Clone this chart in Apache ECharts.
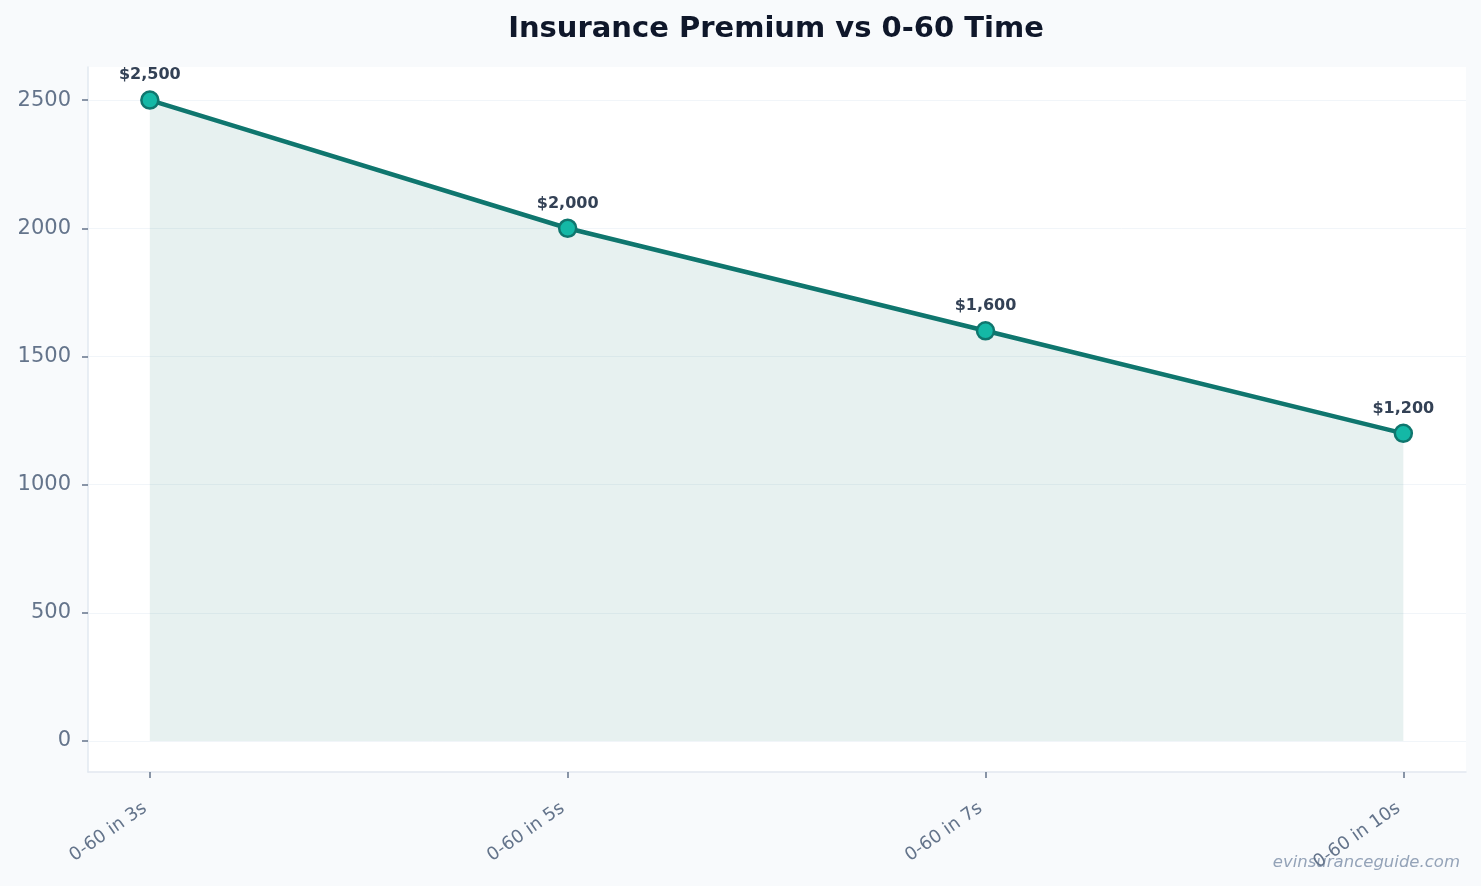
<!DOCTYPE html>
<html lang="en">
<head>
    <meta charset="UTF-8">
    <title>Insurance Premium vs 0-60 Time</title>
    <style>
        html, body { margin: 0; padding: 0; background: #f8fafc; }
        #chart { width: 1481px; height: 886px; }
    </style>
</head>
<body>
    <div id="chart"></div>
</body>
<script src="https://cdn.jsdelivr.net/npm/echarts@6/dist/echarts.min.js"></script>
<script type="text/javascript">
    // categories and premiums
    var categories = ['0-60 in 3s', '0-60 in 5s', '0-60 in 7s', '0-60 in 10s'];
    var premiums = [2500, 2000, 1600, 1200];
    var yTicks = [0, 500, 1000, 1500, 2000, 2500];
    var xTicks = [0, 1, 2, 3];

    var font = 'DejaVu Sans';

    function money(v) {
        return '$' + v.toString().replace(/\B(?=(\d{3})+(?!\d))/g, ',');
    }

    var seriesData = [];
    for (var i = 0; i < premiums.length; i++) {
        seriesData.push([i, premiums[i]]);
    }

    var option = {
        backgroundColor: '#f8fafc',
        title: {
            text: 'Insurance Premium vs 0-60 Time',
            left: 771,
            top: 10,
            textAlign: 'center',
            textStyle: { fontFamily: font, fontSize: 29, fontWeight: 'bold', color: '#0f172a' }
        },
        graphic: [{
            type: 'text',
            right: 21,
            bottom: 15,
            style: {
                text: 'evinsuranceguide.com',
                fontFamily: font,
                fontStyle: 'italic',
                fontSize: 16.5,
                fill: '#94a3b8'
            }
        }],
        grid: {
            left: 88,
            right: 15,
            top: 67,
            bottom: 114,
            show: true,
            backgroundColor: '#ffffff',
            borderWidth: 0
        },
        xAxis: {
            type: 'value',
            min: -0.148,
            max: 3.15,
            axisLine: { show: true, onZero: false, lineStyle: { color: '#e2e8f0', width: 1.5 } },
            axisTick: { show: true, customValues: xTicks, length: 6, lineStyle: { color: '#64748b', width: 1.5 } },
            axisLabel: {
                customValues: xTicks,
                rotate: 35,
                margin: 31,
                padding: [0, 6, 0, 0],
                fontFamily: font,
                fontSize: 18,
                color: '#64748b',
                formatter: function (v) { return categories[Math.round(v)]; }
            },
            splitLine: { show: false }
        },
        yAxis: {
            type: 'value',
            min: -121,
            max: 2629,
            axisLine: { show: true, onZero: false, lineStyle: { color: '#e2e8f0', width: 1.5 } },
            axisTick: { show: true, customValues: yTicks, length: 6, lineStyle: { color: '#64748b', width: 1.5 } },
            axisLabel: {
                customValues: yTicks,
                margin: 17,
                fontFamily: font,
                fontSize: 21,
                color: '#64748b',
                formatter: function (v) { return String(v); }
            },
            splitLine: { show: true, lineStyle: { color: '#f1f5f9', width: 1 } }
        },
        series: [{
            type: 'line',
            data: seriesData,
            symbol: 'circle',
            symbolSize: 17,
            lineStyle: { color: '#0f766e', width: 4.5 },
            itemStyle: { color: '#14b8a6', borderColor: '#0f766e', borderWidth: 2.5 },
            areaStyle: { color: 'rgba(15,118,110,0.1)', opacity: 1 },
            label: {
                show: true,
                position: 'top',
                distance: 7,
                fontFamily: font,
                fontSize: 16,
                fontWeight: 'bold',
                color: '#334155',
                formatter: function (p) { return money(p.data[1]); }
            },
            z: 3
        }]
    };

    var echart = echarts.init(document.getElementById('chart'));
    echart.setOption(option);
</script>
</html>
